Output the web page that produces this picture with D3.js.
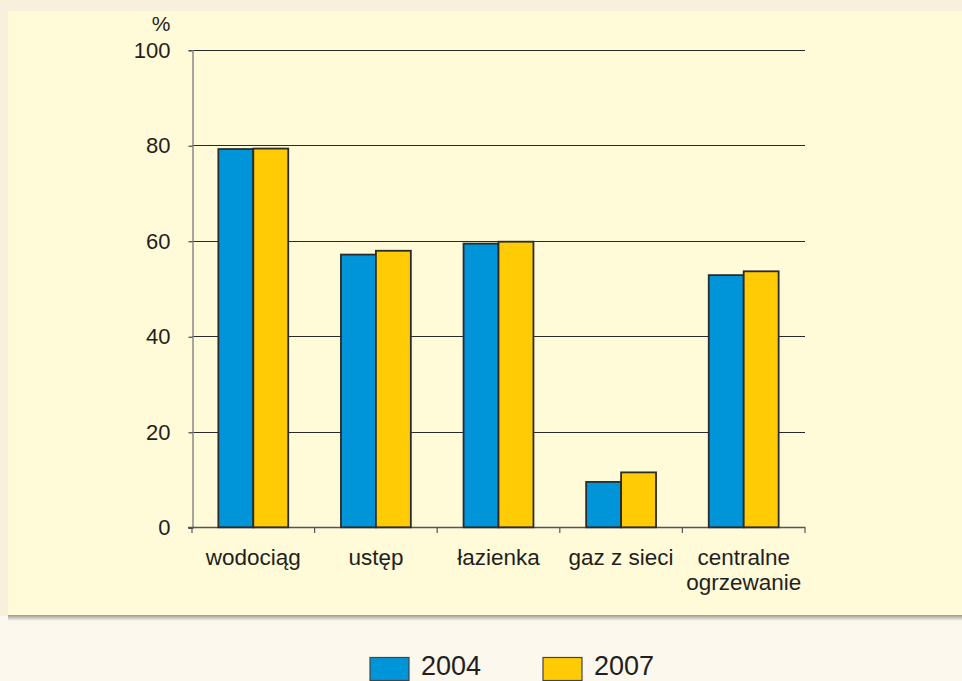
<!DOCTYPE html>
<html>
<head>
<meta charset="utf-8">
<script src="https://cdn.jsdelivr.net/npm/d3@7"></script>
<style>
  body { margin: 0; background: #fcf8ee; }
  svg { display: block; font-family: "Liberation Sans", Arial, sans-serif; }
</style>
</head>
<body>
<script>
'use strict';

// chart data
const categories = ["wodociąg", "ustęp", "łazienka", "gaz z sieci", "centralne\nogrzewanie"];
const seriesNames = ["2004", "2007"];
const values2004 = [79.2, 57.1, 59.4, 9.5, 52.8];
const values2007 = [79.3, 57.9, 59.8, 11.5, 53.6];
const yTicks = [0, 20, 40, 60, 80, 100];

const colors = { "2004": "#0095d9", "2007": "#ffcb05" };

(function() {
  const W = 962, H = 681;
  const svg = d3.select('body').append('svg')
    .attr('width', W)
    .attr('height', H);

  // backgrounds
  svg.append('rect').attr('width', W).attr('height', H).attr('fill', '#fcf8ee');
  svg.append('rect').attr('width', W).attr('height', 11).attr('fill', '#f8efdc');
  svg.append('rect').attr('width', 8).attr('height', 616).attr('fill', '#f8efdc');

  let defs = svg.append('defs');
  let grad = defs.append('linearGradient').attr('id', 'shadow')
    .attr('x1', 0).attr('y1', 0).attr('x2', 0).attr('y2', 1);
  grad.append('stop').attr('offset', '0%').attr('stop-color', '#8a8a84');
  grad.append('stop').attr('offset', '100%').attr('stop-color', '#fcf8ee');
  svg.append('rect').attr('x', 8).attr('y', 614).attr('width', W - 8).attr('height', 7)
    .attr('fill', 'url(#shadow)');
  svg.append('rect').attr('x', 8).attr('y', 11).attr('width', W - 8).attr('height', 604)
    .attr('fill', '#fffad8');

  // scales
  const x0 = d3.scaleBand()
    .domain(categories)
    .range([192, 805])
    .paddingInner(0.43)
    .paddingOuter(0.215);
  const x1 = d3.scaleBand()
    .domain(seriesNames)
    .range([0, x0.bandwidth()]);
  const y = d3.scaleLinear()
    .domain([0, 100])
    .range([527.3, 49.7]);

  // gridlines
  svg.append('g').selectAll('line')
    .data(yTicks.filter(d => d > 0))
    .enter().append('line')
    .attr('x1', 192).attr('x2', 805)
    .attr('y1', d => Math.round(y(d)) + 0.5)
    .attr('y2', d => Math.round(y(d)) + 0.5)
    .attr('stroke', '#2a2a2a')
    .attr('stroke-width', 1.2);

  // y axis
  const yAxis = d3.axisLeft(y).tickValues(yTicks).tickSize(4).tickPadding(18);
  const gy = svg.append('g')
    .attr('transform', 'translate(192.5, 0.5)')
    .call(yAxis);
  gy.select('.domain').attr('stroke', '#8a8a8a').attr('stroke-width', 1.5);
  gy.selectAll('.tick line').attr('stroke', '#444').attr('stroke-width', 1.2);
  gy.selectAll('.tick text')
    .attr('fill', '#231f20')
    .style('font-size', '22px')
    .style('font-family', '"Liberation Sans", Arial, sans-serif');

  // x axis with ticks at category boundaries
  const boundaries = categories.map(c => x0(c) - x0.step() * x0.paddingInner() / 2)
    .concat([805]);
  boundaries[0] = 192;
  const gx = svg.append('g');
  gx.append('line')
    .attr('x1', 188).attr('x2', 805)
    .attr('y1', 527.5).attr('y2', 527.5)
    .attr('stroke', '#555').attr('stroke-width', 1.5);
  gx.selectAll('.xt')
    .data(boundaries)
    .enter().append('line')
    .attr('x1', d => d).attr('x2', d => d)
    .attr('y1', 527).attr('y2', 533)
    .attr('stroke', '#555').attr('stroke-width', 1.2);

  // category labels (each line a separate text)
  categories.forEach(function(c) {
    c.split('\n').forEach(function(line, i) {
      svg.append('text')
        .attr('x', x0(c) + x0.bandwidth() / 2)
        .attr('y', 564.5 + i * 25)
        .attr('text-anchor', 'middle')
        .attr('fill', '#231f20')
        .style('font-size', '22.5px')
        .text(line);
    });
  });

  // bars
  const rows = categories.map((c, i) => ({ cat: c, vals: [values2004[i], values2007[i]] }));
  svg.append('g').selectAll('g')
    .data(rows)
    .enter().append('g')
    .attr('transform', d => 'translate(' + x0(d.cat) + ',0)')
    .selectAll('rect')
    .data(d => d.vals.map((v, i) => ({ key: seriesNames[i], value: v })))
    .enter().append('rect')
    .attr('x', d => x1(d.key))
    .attr('y', d => y(d.value))
    .attr('width', x1.bandwidth())
    .attr('height', d => y(0) - y(d.value))
    .attr('fill', d => colors[d.key])
    .attr('stroke', '#2b2b2b')
    .attr('stroke-width', 1.8);

  // unit label
  svg.append('text')
    .attr('x', 161).attr('y', 31)
    .attr('text-anchor', 'middle')
    .attr('fill', '#231f20')
    .style('font-size', '21px')
    .text('%');

  // legend
  const legendX = [370, 543];
  seriesNames.forEach(function(s, i) {
    svg.append('rect')
      .attr('x', legendX[i]).attr('y', 657.5)
      .attr('width', 39).attr('height', 23)
      .attr('fill', colors[s])
      .attr('stroke', '#444').attr('stroke-width', 1.2);
    svg.append('text')
      .attr('x', legendX[i] + 51).attr('y', 675)
      .attr('fill', '#231f20')
      .style('font-size', '27px')
      .text(s);
  });
})();
</script>
</body>
</html>
